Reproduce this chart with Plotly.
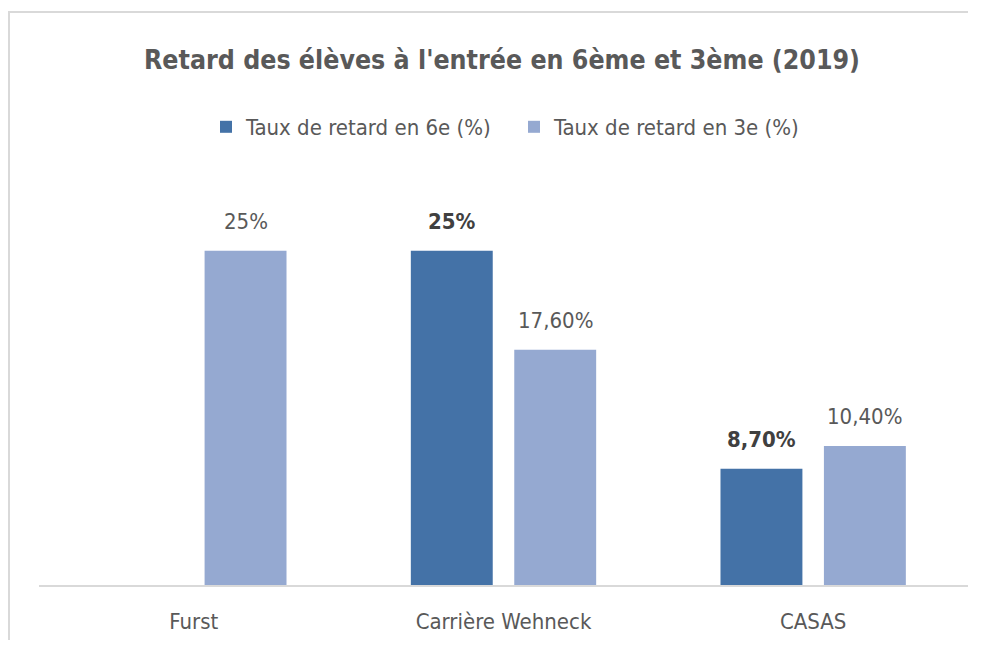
import plotly.graph_objects as go

categories = ["Furst", "Carrière Wehneck", "CASAS"]
series_names = ["Taux de retard en 6e (%)", "Taux de retard en 3e (%)"]
values_6e = [None, 25.0, 8.7]
values_3e = [25.0, 17.6, 10.4]
labels_6e = ["", "25%", "8,70%"]
labels_3e = ["25%", "17,60%", "10,40%"]
title_text = "Retard des élèves à l'entrée en 6ème et 3ème (2019)"

FONT = "DejaVu Sans Condensed, DejaVu Sans, sans-serif"
C6 = "#4472A7"
C3 = "#95A9D1"

# page body has an 8px margin; keep the page smaller than the window (no scrollbars)
W, H = 960, 632
ML, MR, MT, MB = 31, 0, 176, 55
plot_w = W - ML - MR
plot_h = H - MT - MB

fig = go.Figure()
fig.add_trace(go.Bar(name=series_names[0], x=categories, y=values_6e, marker_color=C6,
                     marker_line_width=0))
fig.add_trace(go.Bar(name=series_names[1], x=categories, y=values_3e, marker_color=C3,
                     marker_line_width=0))

bargap = 0.332
slot = plot_w / len(categories) * (1 - bargap) / 2
for vals, labs, shift, bold, col in [(values_6e, labels_6e, -slot / 2, True, "#404040"),
                                     (values_3e, labels_3e, slot / 2, False, "#595959")]:
    for c, v, t in zip(categories, vals, labs):
        if v is None or not t:
            continue
        fig.add_annotation(x=c, y=v, text=f"<b>{t}</b>" if bold else t, showarrow=False,
                           xshift=shift, yshift=15, yanchor="bottom",
                           font=dict(family=FONT, size=22, color=col))


def px_to_paper_x(px):
    return (px - ML) / plot_w


def px_to_paper_y(py):
    return (H - MB - py) / plot_h


# outer chart border (left and top visible)
fig.add_shape(type="rect", xref="paper", yref="paper",
              x0=px_to_paper_x(1), x1=px_to_paper_x(1010),
              y0=px_to_paper_y(700), y1=px_to_paper_y(4),
              line=dict(color="#D9D9D9", width=2), fillcolor="rgba(0,0,0,0)", layer="below")

fig.update_layout(
    width=W, height=H,
    margin=dict(l=ML, r=MR, t=MT, b=MB, autoexpand=False),
    paper_bgcolor="white", plot_bgcolor="white",
    barmode="group", bargap=bargap, bargroupgap=0.208,
    title=dict(text=f"<b>{title_text}</b>", x=px_to_paper_x(494), xref="paper",
               xanchor="center", y=1 - 52 / H, yanchor="middle",
               font=dict(family=FONT, size=26.5, color="#595959")),
    legend=dict(orientation="h", x=px_to_paper_x(198), xanchor="left",
                y=px_to_paper_y(119), yanchor="middle",
                font=dict(family=FONT, size=22, color="#595959"),
                traceorder="normal", itemwidth=30, entrywidth=263,
                bgcolor="rgba(0,0,0,0)"),
    xaxis=dict(showline=True, linecolor="#D9D9D9", linewidth=2, showgrid=False,
               automargin=False,
               ticks="", tickfont=dict(family=FONT, size=22, color="#595959"),
               ticklabelstandoff=16),
    yaxis=dict(range=[0, 30], visible=False, showgrid=False, zeroline=False,
               automargin=False),
    showlegend=True,
)

fig.write_html("out.html")
